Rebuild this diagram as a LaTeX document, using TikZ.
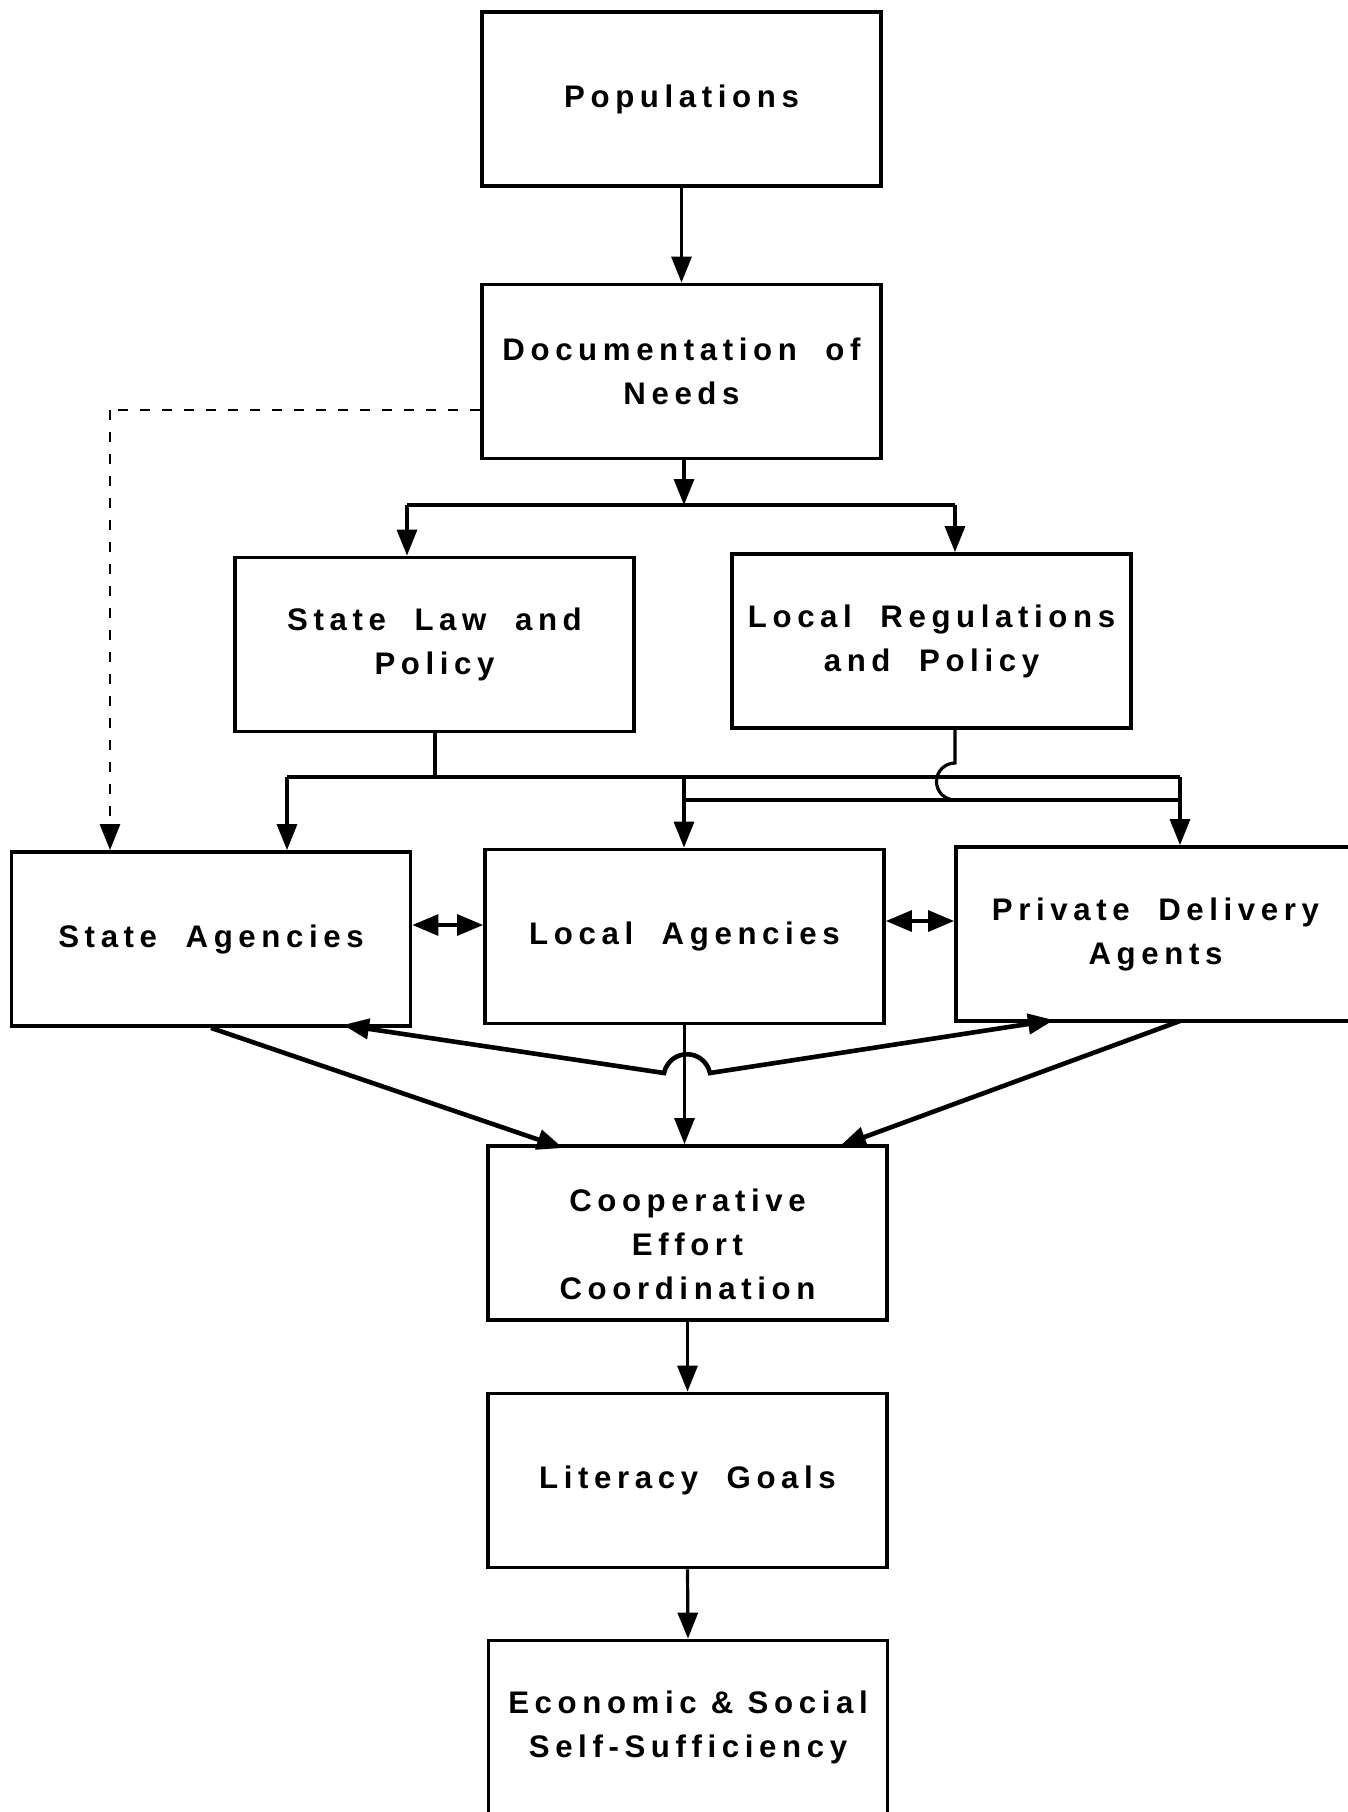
\documentclass[tikz,border=0pt]{standalone}
\usepackage{fontspec}
\newfontfamily\bxfont[LetterSpace=18]{Liberation Sans Bold}
\usetikzlibrary{arrows.meta}
\tikzset{
  box/.style={draw, line width=1.9pt, inner sep=0pt, minimum width=199.5pt, minimum height=87pt,
    align=center, font=\bxfont\fontsize{15.6}{22}\selectfont},
  conn/.style={line width=1.6pt},
  heavy/.style={line width=2.3pt},
  arr/.style={-{Triangle[length=13pt,width=10pt]}},
  dbl/.style={{Triangle[length=13pt,width=10.5pt]}-{Triangle[length=13pt,width=10.5pt]}},
  dashline/.style={line width=1.4pt, dash pattern=on 5pt off 6pt}
}
\begin{document}
\begin{tikzpicture}[x=0.5pt,y=-0.5pt]
\fill[white] (0,0) rectangle (1348,1812);
\useasboundingbox (0,0) rectangle (1348,1812);

% boxes
\node[box] (pop)  at (681.5,99)    {Populations};
\node[box] (doc)  at (681.5,371.5) {Documentation\ \ of\\Needs};
\node[box] (slaw) at (434.5,644.5) {State\ \ Law\ \ and\\Policy};
\node[box] (lreg) at (931.5,641)   {Local\ \ Regulations\\and\ \ Policy};
\node[box] (sag)  at (211,939)     {State\ \ Agencies};
\node[box] (lag)  at (684.5,936.5) {Local\ \ Agencies};
\node[box] (pda)  at (1155.5,934)  {Private\ \ Delivery\\Agents};
\node[box] (coop) at (687.5,1233)  {\rule{0pt}{22.6pt}Cooperative\\Effort\\Coordination};
\node[box] (lit)  at (687.5,1480.5){Literacy\ \ Goals};
\node[box] (econ) at (688,1727.5)  {Economic\ \&\ Social\\Self-Sufficiency};

% helper coordinates
\coordinate (sp)   at (684,505);
\coordinate (spL)  at (407,505);
\coordinate (spR)  at (955,505);
\coordinate (dsh)  at (110,410);
\coordinate (sl)   at (435,777);
\coordinate (upL)  at (287,777);
\coordinate (upR)  at (1180,777);
\coordinate (lrA)  at (955,763);
\coordinate (loL)  at (684,800);
\coordinate (loR)  at (1180,800);
\coordinate (cpL)  at (563,1148);
\coordinate (cpR)  at (840,1146);
\coordinate (pdB)  at (1180,1021);
\coordinate (vL)   at (664,1073);
\coordinate (vR)   at (710,1073);
\coordinate (sagT) at (343,1025);
\coordinate (pdaT) at (1054,1020);

% top chain
\draw[conn,arr] (pop.south) -- (doc.north);
\draw[conn,arr] (doc.south -| sp) -- (sp);
\draw[conn] (spL) -- (spR);
\draw[conn,arr] (spL) -- (spL |- slaw.north);
\draw[conn,arr] (spR) -- (spR |- lreg.north);

% dashed feedback
\draw[dashline] (doc.west |- dsh) -- (dsh);
\draw[dashline,arr] (dsh) -- (dsh |- sag.north);

% state law distribution
\draw[conn] (slaw.south -| sl) -- (sl);
\draw[conn] (upL) -- (upR);
\draw[conn,arr] (upL) -- (upL |- sag.north);
\draw[conn,arr] (upR) -- (upR |- pda.north);
\draw[conn,arr] (sl -| loL) -- (loL |- lag.north);

% local regulations distribution with hop
\draw[conn] (lreg.south -| lrA) -- (lrA) arc[start angle=90, end angle=270, radius=9.25pt];
\draw[conn] (loL) -- (loR);

% lateral double arrows
\draw[conn,dbl] (sag.east |- 0,925) -- (lag.west |- 0,925);
\draw[conn,dbl] (lag.east |- 0,921) -- (pda.west |- 0,921);

% into cooperative effort
\draw[heavy,arr] (sag.south) -- (cpL);
\draw[heavy,arr] (pdB) -- (cpR);
\draw[conn,arr] (lag.south) -- (lag.south |- coop.north);
\draw[heavy,{Triangle[length=13pt,width=10pt]}-{Triangle[length=13pt,width=10pt]}]
  (sagT) -- (vL) .. controls (670,1048) and (704,1048) .. (vR) -- (pdaT);

% bottom chain
\draw[conn,arr] (coop.south) -- (lit.north);
\draw[conn,arr] (lit.south) -- (econ.north);
\end{tikzpicture}
\end{document}
